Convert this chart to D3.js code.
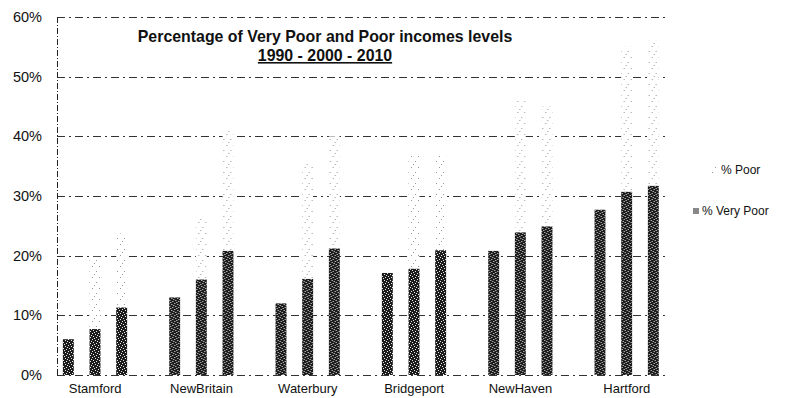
<!DOCTYPE html>
<html>
<head>
<meta charset="utf-8">
<script src="https://cdn.jsdelivr.net/npm/d3@7"></script>
<style>
  html, body { margin: 0; padding: 0; background: #fff; }
  svg { display: block; font-family: "Liberation Sans", Arial, sans-serif; }
</style>
</head>
<body>
<svg id="chart" width="786" height="398"></svg>
<script>
// Cities and census years
const cities = ["Stamford", "NewBritain", "Waterbury", "Bridgeport", "NewHaven", "Hartford"];
const years = ["1990", "2000", "2010"];

// % of households below the "Very Poor" income level, per city, by year
const veryPoor = [
  [6.0, 7.7, 11.3],
  [13.0, 16.0, 20.8],
  [12.0, 16.1, 21.2],
  [17.1, 17.8, 20.9],
  [20.8, 23.9, 24.9],
  [27.7, 30.7, 31.7]
];
// % of households below the "Poor" income level (includes Very Poor); no 1990 figure
const poor = [
  [null, 19.8, 23.7],
  [null, 26.5, 41.0],
  [null, 35.5, 40.0],
  [null, 36.8, 36.8],
  [null, 46.0, 45.0],
  [null, 55.0, 56.0]
];
const yTicks = [0, 10, 20, 30, 40, 50, 60];
const titleText = "Percentage of Very Poor and Poor incomes levels";
const subtitleText = "1990 - 2000 - 2010";
const legendPoor = "% Poor";
const legendVeryPoor = "% Very Poor";

const svg = d3.select("#chart");

// Plot frame
const frameLeft = 57, frameRight = 667;
const y = d3.scaleLinear().domain([0, 60]).range([375, 17]);
const x0 = d3.scaleBand().domain(cities).range([42, 680]);
const x1 = d3.scaleBand().domain(years).range([13, 93]).paddingInner(0.59).paddingOuter(0.295);

// Textures for the two series
const defs = svg.append("defs");
const dark = defs.append("pattern").attr("id", "darkTex")
  .attr("patternUnits", "userSpaceOnUse").attr("width", 6).attr("height", 6);
dark.append("rect").attr("width", 6).attr("height", 6).attr("fill", "#1c1c1c");
[[0,1],[3,0],[2,3],[5,4],[1,5],[4,2]].forEach(([px, py]) =>
  dark.append("rect").attr("x", px).attr("y", py).attr("width", 1).attr("height", 1).attr("fill", "#e8e8e8"));

const light = defs.append("pattern").attr("id", "lightTex")
  .attr("patternUnits", "userSpaceOnUse").attr("width", 7).attr("height", 11);
light.append("rect").attr("width", 7).attr("height", 11).attr("fill", "#fff");
[[1,2],[5,7],[3,10]].forEach(([px, py]) =>
  light.append("rect").attr("x", px).attr("y", py).attr("width", 1).attr("height", 1).attr("fill", "#999"));

// Gridlines (dash-dot)
svg.append("g").selectAll("line").data(yTicks).join("line")
  .attr("x1", frameLeft).attr("x2", frameRight)
  .attr("y1", d => Math.round(y(d)) + 0.5).attr("y2", d => Math.round(y(d)) + 0.5)
  .attr("stroke", "#333").attr("stroke-width", 1)
  .attr("stroke-dasharray", "8,4,2,4");

// Left axis line
svg.append("line")
  .attr("x1", frameLeft + 0.5).attr("x2", frameLeft + 0.5)
  .attr("y1", y(60)).attr("y2", y(0))
  .attr("stroke", "#222").attr("stroke-dasharray", "6,2,1,2");

// Y tick labels
const yAxis = d3.axisLeft(y).tickValues(yTicks).tickSize(0).tickPadding(0)
  .tickFormat(d => d + "%");
svg.append("g").attr("transform", "translate(42,0)").call(yAxis)
  .call(g => g.select(".domain").remove())
  .selectAll("text").attr("font-size", 14.5).attr("fill", "#111")
  .attr("font-family", "'Liberation Sans', Arial, sans-serif");

// X category labels
const xAxis = d3.axisBottom(x0).tickSize(0).tickPadding(0);
svg.append("g").attr("transform", "translate(0,384)").call(xAxis)
  .call(g => g.select(".domain").remove())
  .selectAll("text").attr("font-size", 13).attr("fill", "#111")
  .attr("font-family", "'Liberation Sans', Arial, sans-serif");

// Bars
const groups = svg.append("g").selectAll("g").data(cities).join("g")
  .attr("transform", d => `translate(${x0(d)},0)`);

// Poor segment sits on top of the Very Poor bar
groups.selectAll("rect.poor")
  .data((c, i) => years.map((yr, j) => ({ yr, vp: veryPoor[i][j], p: poor[i][j] })).filter(d => d.p != null))
  .join("rect").attr("class", "poor")
  .attr("x", d => x1(d.yr)).attr("width", x1.bandwidth())
  .attr("y", d => y(d.p)).attr("height", d => y(d.vp) - y(d.p))
  .attr("fill", "url(#lightTex)");

groups.selectAll("rect.vp")
  .data((c, i) => years.map((yr, j) => ({ yr, vp: veryPoor[i][j] })))
  .join("rect").attr("class", "vp")
  .attr("x", d => x1(d.yr)).attr("width", x1.bandwidth())
  .attr("y", d => y(d.vp)).attr("height", d => y(0) - y(d.vp))
  .attr("fill", "url(#darkTex)");

// Title
svg.append("text").attr("x", 325).attr("y", 42).attr("text-anchor", "middle")
  .attr("font-size", 15.9).attr("font-weight", "bold").attr("fill", "#111")
  .text(titleText);
svg.append("text").attr("x", 325).attr("y", 61).attr("text-anchor", "middle")
  .attr("font-size", 15.9).attr("font-weight", "bold").attr("fill", "#111")
  .attr("text-decoration", "underline")
  .text(subtitleText);

// Legend
const legend = svg.append("g");
legend.append("rect").attr("x", 711).attr("y", 166).attr("width", 7).attr("height", 7)
  .attr("fill", "url(#lightTex)");
legend.append("text").attr("x", 721).attr("y", 174).attr("font-size", 12).attr("fill", "#111")
  .text(legendPoor);
legend.append("rect").attr("x", 693).attr("y", 208).attr("width", 6).attr("height", 6)
  .attr("fill", "#888");
legend.append("text").attr("x", 702).attr("y", 215).attr("font-size", 12).attr("fill", "#111")
  .text(legendVeryPoor);
</script>
</body>
</html>
